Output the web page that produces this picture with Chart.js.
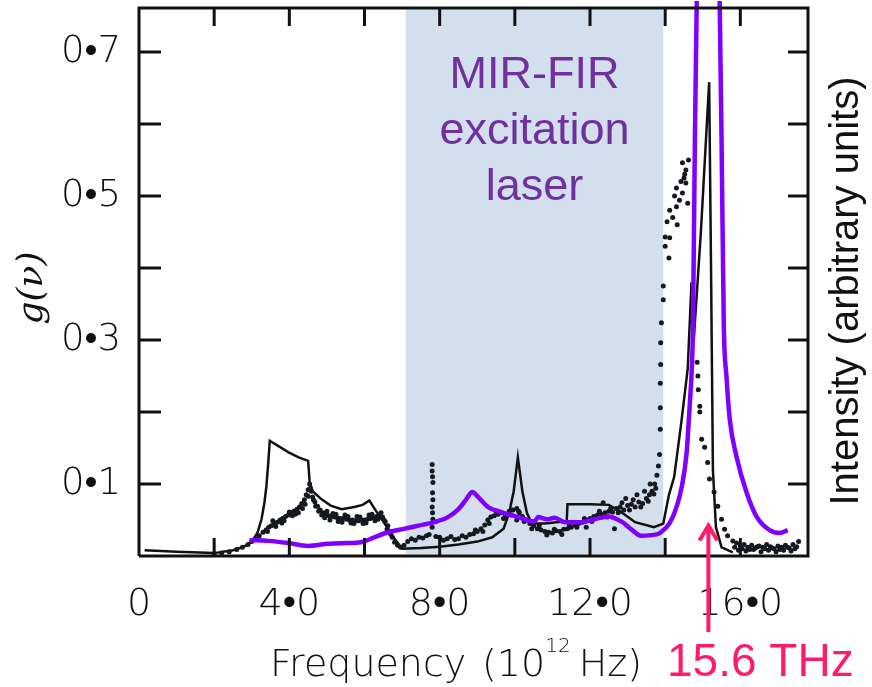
<!DOCTYPE html>
<html>
<head>
<meta charset="utf-8">
<script src="https://cdn.jsdelivr.net/npm/chart.js@4.4.1/dist/chart.umd.min.js"></script>
<style>
  html, body { margin: 0; padding: 0; background: #fff; }
  #wrap { width: 872px; height: 687px; position: relative; }
</style>
</head>
<body>
<div id="wrap"><canvas id="dosChart"></canvas></div>
<script>
// DATA
// calculated g(v), solid black line
var theoryFreq = [0.15, 1.0, 2.0, 2.5, 2.8, 3.0, 3.15, 3.26, 3.34, 3.39, 3.44, 3.48, 3.7, 3.98, 4.25, 4.5, 4.54, 4.62, 4.85, 5.1, 5.39, 5.73, 5.95, 6.13, 6.3, 6.45, 6.8, 7.0, 7.5, 8.0, 8.5, 9.0, 9.4, 9.7, 9.85, 9.97, 10.08, 10.2, 10.32, 10.45, 10.8, 11.1, 11.38, 11.4, 12.0, 12.5, 12.8, 13.2, 13.7, 13.95, 14.1, 14.24, 14.43, 14.6, 14.7, 14.76, 14.95, 15.17, 15.22, 15.27, 15.35, 15.5, 15.8];
var theoryG    = [0.008, 0.006, 0.004, 0.008, 0.013, 0.02, 0.032, 0.051, 0.075, 0.097, 0.13, 0.16, 0.153, 0.144, 0.137, 0.132, 0.103, 0.09, 0.079, 0.07, 0.065, 0.068, 0.071, 0.077, 0.063, 0.052, 0.024, 0.01, 0.011, 0.013, 0.016, 0.02, 0.026, 0.038, 0.06, 0.09, 0.137, 0.09, 0.06, 0.045, 0.045, 0.047, 0.048, 0.072, 0.072, 0.071, 0.062, 0.047, 0.04, 0.045, 0.085, 0.11, 0.186, 0.26, 0.38, 0.30, 0.45, 0.658, 0.40, 0.12, 0.04, 0.012, 0.005];

// measured g(v), dots
var measFreq = [2.0, 2.2, 2.4, 2.6, 2.75, 2.9, 3.0, 3.1, 3.2, 3.3, 3.38, 3.45, 3.52, 3.6, 3.68, 3.75, 3.82, 3.9, 3.97, 4.05, 4.12, 4.2, 4.27, 4.33, 4.4, 4.45, 4.5, 4.54, 4.58, 4.62, 4.68, 4.75, 4.82, 4.9, 4.98, 5.05, 5.12, 5.2, 5.28, 5.36, 5.44, 5.52, 5.6, 5.68, 5.76, 5.84, 5.92, 6.0, 6.08, 6.16, 6.24, 6.32, 6.4, 6.48, 6.55, 6.62, 6.68, 6.74, 6.8, 6.88, 6.96,
  3.56, 3.8, 4.0, 4.16, 4.35, 4.7, 4.86, 5.0, 5.16, 5.3, 5.48, 5.64, 5.8, 5.96, 6.12, 6.28, 6.44,
  3.42, 3.64, 3.86, 4.08, 4.24, 4.42, 4.5, 4.56, 4.64, 4.78, 4.94, 5.08, 5.24, 5.4, 5.56, 5.72, 5.88, 6.04, 6.2, 6.36, 6.52, 6.6, 6.7,
  7.05, 7.15, 7.25, 7.35, 7.45, 7.55, 7.65, 7.72, 7.8, 7.8, 7.81, 7.82, 7.81, 7.82, 7.8, 7.81, 7.82, 7.8,
  7.9, 8.0, 8.1, 8.2, 8.3, 8.4, 8.5, 8.6, 8.7, 8.8, 8.9, 9.0, 9.1, 9.2, 9.28, 9.36, 9.45, 9.55, 9.65, 9.75, 9.85, 9.95, 10.05, 10.12, 10.2, 10.3, 10.4, 10.5, 10.6, 10.7, 10.8, 10.9, 11.0, 11.1, 11.2, 11.3, 11.4, 11.5, 11.6, 11.7, 11.8, 11.9, 12.0, 12.1, 12.2, 12.3, 12.4, 12.5, 12.6, 12.7, 12.8, 12.9, 13.0, 13.1, 13.2, 13.3, 13.4, 13.5, 13.58, 13.65, 13.72, 13.78, 13.82, 13.85,
  8.95, 9.15, 9.32, 9.5, 9.7, 9.9, 10.1, 10.25, 10.45, 10.65, 10.85, 11.05, 11.25, 11.45, 11.65, 11.85, 12.05, 12.25, 12.45, 12.55, 12.75, 12.85, 13.05, 13.15, 13.35, 13.55, 13.7, 13.75,
  12.35, 12.95, 13.25, 13.45, 13.6, 12.65, 11.9, 10.05,
  13.87, 13.87, 13.87, 13.88, 13.88, 13.9, 13.95, 13.95, 14.1, 14.0, 14.0, 14.12, 14.05, 14.2, 14.32, 14.12, 14.3, 14.38, 14.25, 14.46, 14.3, 14.55, 14.46, 14.55, 14.5, 14.6, 14.52, 14.42, 14.62,
  14.85, 14.87, 14.88, 14.92, 14.92, 14.97, 15.05, 15.13, 15.18, 15.3, 15.4, 15.5, 15.58, 15.66, 15.8,
  15.9, 16.0, 16.1, 16.2, 16.3, 16.4, 16.5, 16.6, 16.7, 16.8, 16.9, 17.0, 17.1, 17.2, 17.3, 17.4, 17.5,
  15.95, 16.15, 16.35, 16.55, 16.75, 16.95, 17.15, 17.35, 17.55,
  15.85, 16.05, 16.25, 16.45, 16.65, 16.85, 17.05, 17.25, 17.45];
var measG = [0.003, 0.004, 0.006, 0.009, 0.012, 0.016, 0.02, 0.024, 0.028, 0.033, 0.036, 0.04, 0.042, 0.044, 0.047, 0.05, 0.052, 0.055, 0.057, 0.06, 0.062, 0.065, 0.068, 0.073, 0.078, 0.085, 0.092, 0.1, 0.09, 0.082, 0.075, 0.069, 0.064, 0.06, 0.058, 0.056, 0.055, 0.054, 0.053, 0.052, 0.052, 0.051, 0.05, 0.05, 0.049, 0.049, 0.05, 0.05, 0.051, 0.052, 0.053, 0.055, 0.056, 0.054, 0.048, 0.042, 0.034, 0.026, 0.019, 0.015, 0.012,
  0.049, 0.046, 0.061, 0.058, 0.066, 0.069, 0.057, 0.062, 0.059, 0.048, 0.057, 0.046, 0.055, 0.045, 0.057, 0.049, 0.06,
  0.034, 0.041, 0.049, 0.056, 0.06, 0.072, 0.083, 0.094, 0.078, 0.062, 0.053, 0.05, 0.058, 0.047, 0.055, 0.045, 0.054, 0.046, 0.058, 0.051, 0.05, 0.037, 0.03,
  0.015, 0.02, 0.024, 0.022, 0.026, 0.025, 0.028, 0.03, 0.127, 0.118, 0.11, 0.102, 0.088, 0.078, 0.068, 0.06, 0.051, 0.04,
  0.027, 0.026, 0.022, 0.024, 0.027, 0.023, 0.024, 0.028, 0.026, 0.03, 0.031, 0.034, 0.038, 0.043, 0.05, 0.054, 0.056, 0.058, 0.06, 0.056, 0.062, 0.064, 0.066, 0.06, 0.055, 0.05, 0.045, 0.042, 0.038, 0.036, 0.034, 0.033, 0.032, 0.035, 0.034, 0.037, 0.038, 0.04, 0.043, 0.045, 0.047, 0.05, 0.052, 0.055, 0.057, 0.058, 0.06, 0.062, 0.061, 0.066, 0.068, 0.064, 0.07, 0.072, 0.068, 0.075, 0.073, 0.08, 0.085, 0.09, 0.1, 0.112, 0.125, 0.141,
  0.036, 0.034, 0.045, 0.062, 0.052, 0.057, 0.062, 0.048, 0.038, 0.042, 0.029, 0.037, 0.03, 0.043, 0.04, 0.052, 0.048, 0.062, 0.054, 0.066, 0.06, 0.074, 0.064, 0.078, 0.068, 0.076, 0.086, 0.094,
  0.074, 0.08, 0.085, 0.09, 0.1, 0.038, 0.04, 0.05,
  0.176, 0.206, 0.24, 0.266, 0.296, 0.324, 0.356, 0.375, 0.414, 0.43, 0.443, 0.442, 0.464, 0.47, 0.46, 0.48, 0.485, 0.494, 0.5, 0.504, 0.511, 0.518, 0.546, 0.536, 0.525, 0.49, 0.53, 0.52, 0.55,
  0.269, 0.25, 0.231, 0.208, 0.2, 0.162, 0.151, 0.13, 0.107, 0.089, 0.069, 0.051, 0.037, 0.028, 0.021,
  0.018, 0.014, 0.016, 0.012, 0.015, 0.011, 0.014, 0.012, 0.016, 0.013, 0.01, 0.014, 0.012, 0.015, 0.011, 0.016, 0.013,
  0.008, 0.007, 0.009, 0.006, 0.008, 0.006, 0.008, 0.007, 0.02,
  0.012, 0.01, 0.009, 0.013, 0.01, 0.011, 0.009, 0.012, 0.01];

// laser spectrum, purple line (arbitrary units, same scale)
var laserFreq = [2.94, 3.44, 3.97, 4.5, 5.03, 5.56, 5.9, 6.26, 6.63, 6.98, 7.42, 7.86, 8.22, 8.5, 8.71, 8.87, 9.02, 9.29, 9.64, 10.09, 10.52, 10.62, 10.85, 11.06, 11.32, 11.77, 12.11, 12.49, 12.83, 13.1, 13.36, 13.63, 13.86, 14.2, 14.44, 14.57, 14.65, 14.71, 14.74, 14.79, 14.84, 15.15, 15.45, 15.5, 15.56, 15.63, 15.72, 15.9, 16.17, 16.44, 16.78, 17.05, 17.26];
var laserI    = [0.022, 0.021, 0.018, 0.014, 0.017, 0.018, 0.019, 0.026, 0.033, 0.037, 0.042, 0.047, 0.054, 0.065, 0.079, 0.089, 0.082, 0.068, 0.061, 0.054, 0.048, 0.054, 0.051, 0.053, 0.047, 0.047, 0.051, 0.055, 0.048, 0.037, 0.028, 0.029, 0.032, 0.054, 0.096, 0.143, 0.207, 0.263, 0.32, 0.578, 0.77, 2.1, 0.77, 0.578, 0.32, 0.25, 0.189, 0.1375, 0.0875, 0.054, 0.036, 0.032, 0.036];

// axes
var xTickVals   = [2, 4, 6, 8, 10, 12, 14, 16];
var xLabelVals  = [0, 4, 8, 12, 16];
var yTickVals   = [0.1, 0.2, 0.3, 0.4, 0.5, 0.6, 0.7];
var yLabelVals  = [0.1, 0.3, 0.5, 0.7];

// annotations
var laserBand = [7.1, 13.95];
var laserText = ['MIR-FIR', 'excitation', 'laser'];
var markFreq  = 15.15;
var markTip   = 0.045;
var markText  = '15.6 THz';

function toPoints(xs, ys) {
  var pts = [];
  for (var i = 0; i < xs.length; i++) pts.push({ x: xs[i], y: ys[i] });
  return pts;
}

function fmtTick(v) {
  var t = Math.round(v * 10);
  if (t === 0) return '0';
  if (t % 10 === 0) return (t / 10) + '\u2022' + '0';
  return '0\u2022' + t;
}

var THIN = '"DejaVu Sans", sans-serif';

// PLUGINS
var bandPlugin = {
  id: 'band',
  beforeDatasetsDraw: function(chart) {
    var ctx = chart.ctx, a = chart.chartArea, xs = chart.scales.x;
    var x0 = xs.getPixelForValue(laserBand[0]), x1 = xs.getPixelForValue(laserBand[1]);
    ctx.save();
    ctx.fillStyle = '#d3dfed';
    ctx.fillRect(x0, a.top, x1 - x0, a.bottom - a.top - 2);
    ctx.restore();
  }
};

var framePlugin = {
  id: 'frame',
  afterDatasetsDraw: function(chart) {
    var ctx = chart.ctx, a = chart.chartArea, xs = chart.scales.x, ys = chart.scales.y;
    ctx.save();
    ctx.strokeStyle = '#111';
    ctx.lineWidth = 3;
    ctx.lineCap = 'butt';
    ctx.beginPath();
    ctx.moveTo(a.left, a.bottom);
    ctx.lineTo(a.left, a.top);
    ctx.lineTo(a.right, a.top);
    ctx.lineTo(a.right, a.bottom);
    ctx.lineTo(a.left, a.bottom);
    ctx.stroke();

    // inward ticks
    ctx.beginPath();
    xTickVals.forEach(function(v) {
      var px = xs.getPixelForValue(v);
      ctx.moveTo(px, a.bottom); ctx.lineTo(px, a.bottom - 18);
      ctx.moveTo(px, a.top);    ctx.lineTo(px, a.top + 18);
    });
    yTickVals.forEach(function(v) {
      var py = ys.getPixelForValue(v);
      ctx.moveTo(a.left, py);  ctx.lineTo(a.left + 22, py);
      ctx.moveTo(a.right, py); ctx.lineTo(a.right - 20, py);
    });
    ctx.stroke();

    // laser text
    var cx = (xs.getPixelForValue(laserBand[0]) + xs.getPixelForValue(laserBand[1])) / 2;
    ctx.fillStyle = '#7030a0';
    ctx.font = '45px "Liberation Sans", Arial, sans-serif';
    ctx.textAlign = 'center';
    ctx.textBaseline = 'middle';
    laserText.forEach(function(s, i) {
      ctx.fillText(s, cx, 76 + i * 56);
    });

    // 15.6 THz arrow
    var mx = xs.getPixelForValue(markFreq), my = ys.getPixelForValue(markTip);
    ctx.strokeStyle = '#ff1a6e';
    ctx.lineWidth = 4;
    ctx.lineJoin = 'miter';
    ctx.beginPath();
    ctx.moveTo(mx, my + 2); ctx.lineTo(mx, 632);
    ctx.moveTo(mx - 9, my + 17); ctx.lineTo(mx, my + 2); ctx.lineTo(mx + 9, my + 17);
    ctx.stroke();
    ctx.fillStyle = '#ff1a6e';
    ctx.font = '46px "Liberation Sans", Arial, sans-serif';
    ctx.textAlign = 'left';
    ctx.textBaseline = 'alphabetic';
    ctx.fillText(markText, 667, 676);

    // axis titles
    ctx.fillStyle = '#111';
    ctx.font = '200 38px ' + THIN;
    ctx.fillText('Frequency', 270, 676);
    ctx.fillText('(10', 482, 676);
    var w1 = ctx.measureText('(10').width;
    ctx.font = '200 20px ' + THIN;
    ctx.fillText('12', 482 + w1, 652);
    ctx.font = '200 38px ' + THIN;
    ctx.textAlign = 'right';
    ctx.fillText('Hz)', 642, 676);

    ctx.save();
    ctx.translate(42, 288);
    ctx.rotate(-Math.PI / 2);
    ctx.textAlign = 'center';
    ctx.font = 'italic 36px "DejaVu Serif", serif';
    ctx.fillText('g(\u03bd)', 0, 0);
    ctx.restore();

    ctx.save();
    ctx.translate(858, 291);
    ctx.rotate(-Math.PI / 2);
    ctx.textAlign = 'center';
    ctx.font = '40px "Liberation Sans", Arial, sans-serif';
    ctx.fillText('Intensity (arbitrary units)', 0, 0);
    ctx.restore();

    ctx.restore();
  }
};

// CHART
function chartMethods() {
  var cfg = {
    type: 'scatter',
    data: {
      datasets: [
        {
          label: 'calculated',
          data: toPoints(theoryFreq, theoryG),
          showLine: true,
          borderColor: '#111',
          borderWidth: 2.5,
          pointRadius: 0,
          tension: 0,
          order: 3
        },
        {
          label: 'measured',
          data: toPoints(measFreq, measG),
          showLine: false,
          pointRadius: 2.5,
          pointBackgroundColor: '#15191f',
          pointBorderWidth: 0,
          order: 2
        },
        {
          label: 'laser',
          data: toPoints(laserFreq, laserI),
          showLine: true,
          borderColor: '#7f00ff',
          borderWidth: 4.5,
          pointRadius: 0,
          cubicInterpolationMode: 'monotone',
          clip: { left: 0, right: 0, top: 7, bottom: 0 },
          order: 1
        }
      ]
    },
    options: {
      responsive: true,
      maintainAspectRatio: false,
      animation: false,
      layout: { padding: { top: 8, right: 64, left: 0, bottom: 0 } },
      plugins: { legend: { display: false }, tooltip: { enabled: false } },
      scales: {
        x: {
          type: 'linear',
          min: 0,
          max: 17.8,
          afterFit: function(s) { s.height = 131; s.paddingLeft = 0; s.paddingRight = 0; },
          grid: { display: false },
          border: { display: false },
          ticks: {
            stepSize: 2,
            includeBounds: false,
            autoSkip: false,
            maxRotation: 0,
            padding: 18,
            color: '#111',
            font: { family: THIN, size: 38, weight: '200' },
            callback: function(v) { return xLabelVals.indexOf(v) >= 0 ? fmtTick(v) : ''; }
          }
        },
        y: {
          type: 'linear',
          min: 0,
          max: 0.761,
          afterFit: function(s) { s.width = 139; s.paddingTop = 0; s.paddingBottom = 0; },
          grid: { display: false },
          border: { display: false },
          ticks: {
            stepSize: 0.1,
            includeBounds: false,
            autoSkip: false,
            padding: 10,
            color: '#111',
            font: { family: THIN, size: 37, weight: '200' },
            callback: function(v) {
              var t = Math.round(v * 10) / 10;
              return (yLabelVals.indexOf(t) >= 0 && Math.abs(v - t) < 1e-6) ? fmtTick(t) : '';
            }
          }
        }
      }
    },
    plugins: [bandPlugin, framePlugin]
  };
  return new Chart(document.getElementById('dosChart'), cfg);
}

var dosChart = chartMethods();
</script>
</body>
</html>
